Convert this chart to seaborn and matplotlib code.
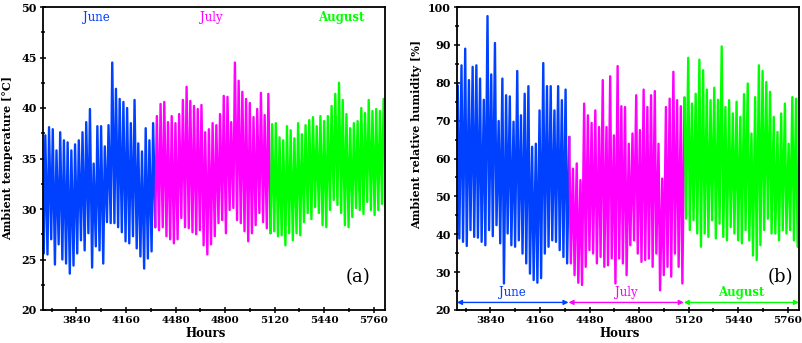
import numpy as np
import pandas as pd
import seaborn as sns
import matplotlib.pyplot as plt
from matplotlib.ticker import MultipleLocator

# daily highs / lows, one value per day from 1 June (hour 3624)
months = ["June", "July", "August"]
month_days = [30, 31, 31]
month_colors = ["#0040ff", "#ff00ff", "#00ff00"]

temp_max = [
    37.3, 38.1, 37.9, 35.8, 37.6, 36.8, 36.6, 35.8, 36.4, 36.8,
    37.6, 38.6, 39.9, 34.5, 38.2, 38.2, 36.2, 38.3, 44.5, 41.9,
    40.9, 40.6, 40.0, 38.5, 40.8, 36.5, 35.7, 38.0, 36.8, 38.5,
    39.2, 40.4, 40.6, 38.6, 39.2, 38.5, 39.4, 40.8, 42.1, 40.7,
    40.2, 39.9, 40.3, 37.6, 37.9, 38.5, 38.3, 39.4, 41.2, 41.1,
    38.6, 44.5, 42.7, 41.6, 40.9, 40.5, 39.1, 39.9, 41.5, 39.3, 41.4,
    38.4, 38.5, 37.1, 36.8, 38.2, 37.8, 37.0, 38.5, 37.4, 38.3,
    38.8, 39.1, 38.2, 39.2, 38.7, 39.2, 40.2, 41.4, 42.5, 40.8,
    39.4, 38.0, 38.5, 38.7, 40.0, 39.5, 40.8, 39.7, 39.9, 39.7, 40.9,
]
temp_min = [
    25.6, 25.5, 27.0, 24.5, 26.5, 25.0, 24.6, 23.6, 24.4, 25.6,
    26.9, 25.9, 27.6, 24.2, 26.3, 25.9, 24.6, 28.7, 28.6, 28.6,
    28.2, 27.7, 26.8, 26.6, 27.3, 26.1, 25.3, 24.1, 25.1, 25.8,
    28.2, 27.9, 28.2, 27.3, 27.0, 26.6, 27.0, 29.1, 28.2, 28.1,
    27.7, 27.5, 27.9, 26.4, 25.5, 26.5, 27.3, 28.6, 28.9, 27.6,
    29.9, 30.1, 28.9, 28.6, 27.8, 26.8, 27.6, 28.4, 29.6, 28.7, 28.1,
    27.6, 27.8, 27.3, 27.4, 26.4, 27.6, 26.9, 27.6, 27.4, 28.7,
    29.6, 29.0, 30.2, 29.6, 28.4, 28.2, 29.9, 30.9, 30.4, 29.6,
    28.4, 28.2, 29.2, 30.1, 29.9, 29.5, 30.7, 29.9, 29.4, 29.9, 30.5,
]
rh_max = [
    79.3, 84.6, 89.0, 80.7, 84.2, 84.6, 81.1, 75.5, 97.6, 82.2,
    90.5, 69.9, 81.1, 76.7, 76.4, 69.7, 83.1, 71.4, 77.1, 79.1,
    63.1, 63.9, 72.7, 85.2, 79.1, 79.1, 72.7, 79.1, 75.4, 78.2,
    65.7, 57.3, 58.7, 54.3, 74.5, 71.4, 69.4, 72.7, 68.3, 80.7,
    68.3, 81.7, 66.1, 84.4, 73.8, 73.6, 63.9, 66.6, 76.7, 67.5,
    78.2, 73.6, 76.7, 77.8, 63.9, 54.7, 73.6, 75.8, 82.9, 75.4, 73.8,
    76.1, 86.6, 74.5, 77.1, 86.1, 83.3, 78.2, 75.4, 78.7, 75.5,
    89.6, 73.6, 75.4, 71.9, 75.0, 71.0, 77.0, 79.8, 66.6, 76.2,
    84.6, 83.1, 80.2, 77.6, 71.0, 67.0, 71.9, 74.5, 63.9, 76.2, 75.8,
]
rh_min = [
    38.9, 38.0, 36.9, 41.1, 39.3, 39.1, 38.0, 37.1, 41.1, 39.5,
    42.4, 37.6, 27.0, 40.2, 37.1, 36.7, 38.4, 34.9, 32.3, 29.6,
    27.9, 27.2, 28.4, 34.9, 36.7, 38.4, 38.0, 35.8, 34.0, 32.3,
    32.3, 29.2, 27.2, 26.6, 31.4, 35.8, 34.9, 32.3, 34.0, 31.4,
    31.8, 33.6, 27.0, 33.6, 32.3, 29.2, 37.1, 38.4, 34.9, 32.7,
    33.2, 33.6, 31.4, 34.9, 25.2, 29.2, 31.4, 28.8, 34.9, 31.4, 27.0,
    44.1, 41.1, 43.7, 40.2, 36.7, 40.2, 39.3, 43.7, 38.9, 42.8,
    39.3, 38.4, 41.9, 40.2, 38.4, 37.6, 41.1, 38.4, 34.4, 33.2,
    37.1, 41.1, 44.1, 40.2, 40.2, 38.4, 41.1, 40.2, 41.1, 38.4, 36.7,
]

start_hour = 3624
month_ticks = [3840, 4160, 4480, 4800, 5120, 5440, 5760]


def hourly_frame(first, second, first_hour, second_hour):
    # two readings per day: early morning and mid afternoon
    rows = []
    day = 0
    for m, n in zip(months, month_days):
        for _ in range(n):
            h0 = start_hour + 24 * day
            rows.append((h0 + first_hour, first[day], m))
            rows.append((h0 + second_hour, second[day], m))
            day += 1
    return pd.DataFrame(rows, columns=["hour", "value", "month"])


temp_df = hourly_frame(temp_min, temp_max, 5, 15)
rh_df = hourly_frame(rh_max, rh_min, 5, 15)

sns.set_style("ticks")
plt.rcParams["font.family"] = ["DejaVu Serif"]
plt.rcParams["axes.linewidth"] = 1.3
plt.rcParams["text.color"] = "black"
plt.rcParams["axes.labelcolor"] = "black"
plt.rcParams["xtick.color"] = "black"
plt.rcParams["ytick.color"] = "black"

fig = plt.figure(figsize=(8.03, 3.43), dpi=100)
ax1 = fig.add_axes([43 / 803, 33 / 343, 342 / 803, 303 / 343])
ax2 = fig.add_axes([457 / 803, 33 / 343, 342 / 803, 303 / 343])


def draw(ax, df):
    for i, (m, c) in enumerate(zip(months, month_colors)):
        part = df[df["month"] == m]
        if i < len(months) - 1:
            nxt = df[df["month"] == months[i + 1]].iloc[:1]
            part = pd.concat([part, nxt])
        sns.lineplot(data=part, x="hour", y="value", color=c, lw=1.7,
                     estimator=None, sort=False, ax=ax, legend=False)
    ax.set_xlim(3624, 5832)
    ax.xaxis.set_major_locator(plt.FixedLocator(month_ticks))
    ax.xaxis.set_minor_locator(MultipleLocator(160))
    ax.tick_params(which="both", direction="inout", width=1.1, top=False, right=False)
    ax.tick_params(which="major", length=5)
    ax.tick_params(which="minor", length=3.5)
    ax.tick_params(axis="x", labelsize=7.5, pad=2)
    ax.tick_params(axis="y", labelsize=8, pad=2)
    for lab in ax.get_xticklabels() + ax.get_yticklabels():
        lab.set_fontweight("bold")
    ax.set_xlabel("Hours", fontsize=8.5, fontweight="bold", labelpad=0)
    ax.xaxis.set_label_coords(0.475, -0.056)
    for s in ax.spines.values():
        s.set_visible(True)
        s.set_color("black")


draw(ax1, temp_df)
ax1.set_ylim(20, 50)
ax1.yaxis.set_major_locator(MultipleLocator(5))
ax1.yaxis.set_minor_locator(MultipleLocator(2.5))
for lab in ax1.get_yticklabels():
    lab.set_fontweight("bold")
ax1.set_ylabel("Ambient temperature [°C]", fontsize=8, fontweight="bold")
ax1.yaxis.set_label_coords(-0.086, 0.5)

draw(ax2, rh_df)
ax2.set_ylim(20, 100)
ax2.yaxis.set_major_locator(MultipleLocator(10))
ax2.yaxis.set_minor_locator(MultipleLocator(5))
for lab in ax2.get_yticklabels():
    lab.set_fontweight("bold")
ax2.set_ylabel("Ambient relative humidity [%]", fontsize=8, fontweight="bold")
ax2.yaxis.set_label_coords(-0.103, 0.58)

# month names
label_hours = [3966, 4709, 5550]
for h, m, c in zip(label_hours, months, month_colors):
    w = "bold" if m == "August" else "normal"
    ax1.text(h, 49.0, m, color=c, fontsize=8.5, fontweight=w, ha="center", va="center")

bounds = [3624, 4344, 5088, 5832]
for i, (m, c) in enumerate(zip(months, month_colors)):
    ax2.annotate("", xy=(bounds[i + 1], 22), xytext=(bounds[i], 22),
                 arrowprops=dict(arrowstyle="<|-|>", color=c, lw=1.0,
                                 mutation_scale=7, shrinkA=0, shrinkB=0))
    w = "bold" if m == "August" else "normal"
    ax2.text((bounds[i] + bounds[i + 1]) / 2, 24.6, m, color=c, fontsize=8.5,
             fontweight=w, ha="center", va="center")

ax1.text(0.921, 0.109, "(a)", transform=ax1.transAxes, fontsize=13,
         ha="center", va="center")
ax2.text(0.947, 0.109, "(b)", transform=ax2.transAxes, fontsize=13,
         ha="center", va="center")

fig.savefig("out.png", dpi=100)
